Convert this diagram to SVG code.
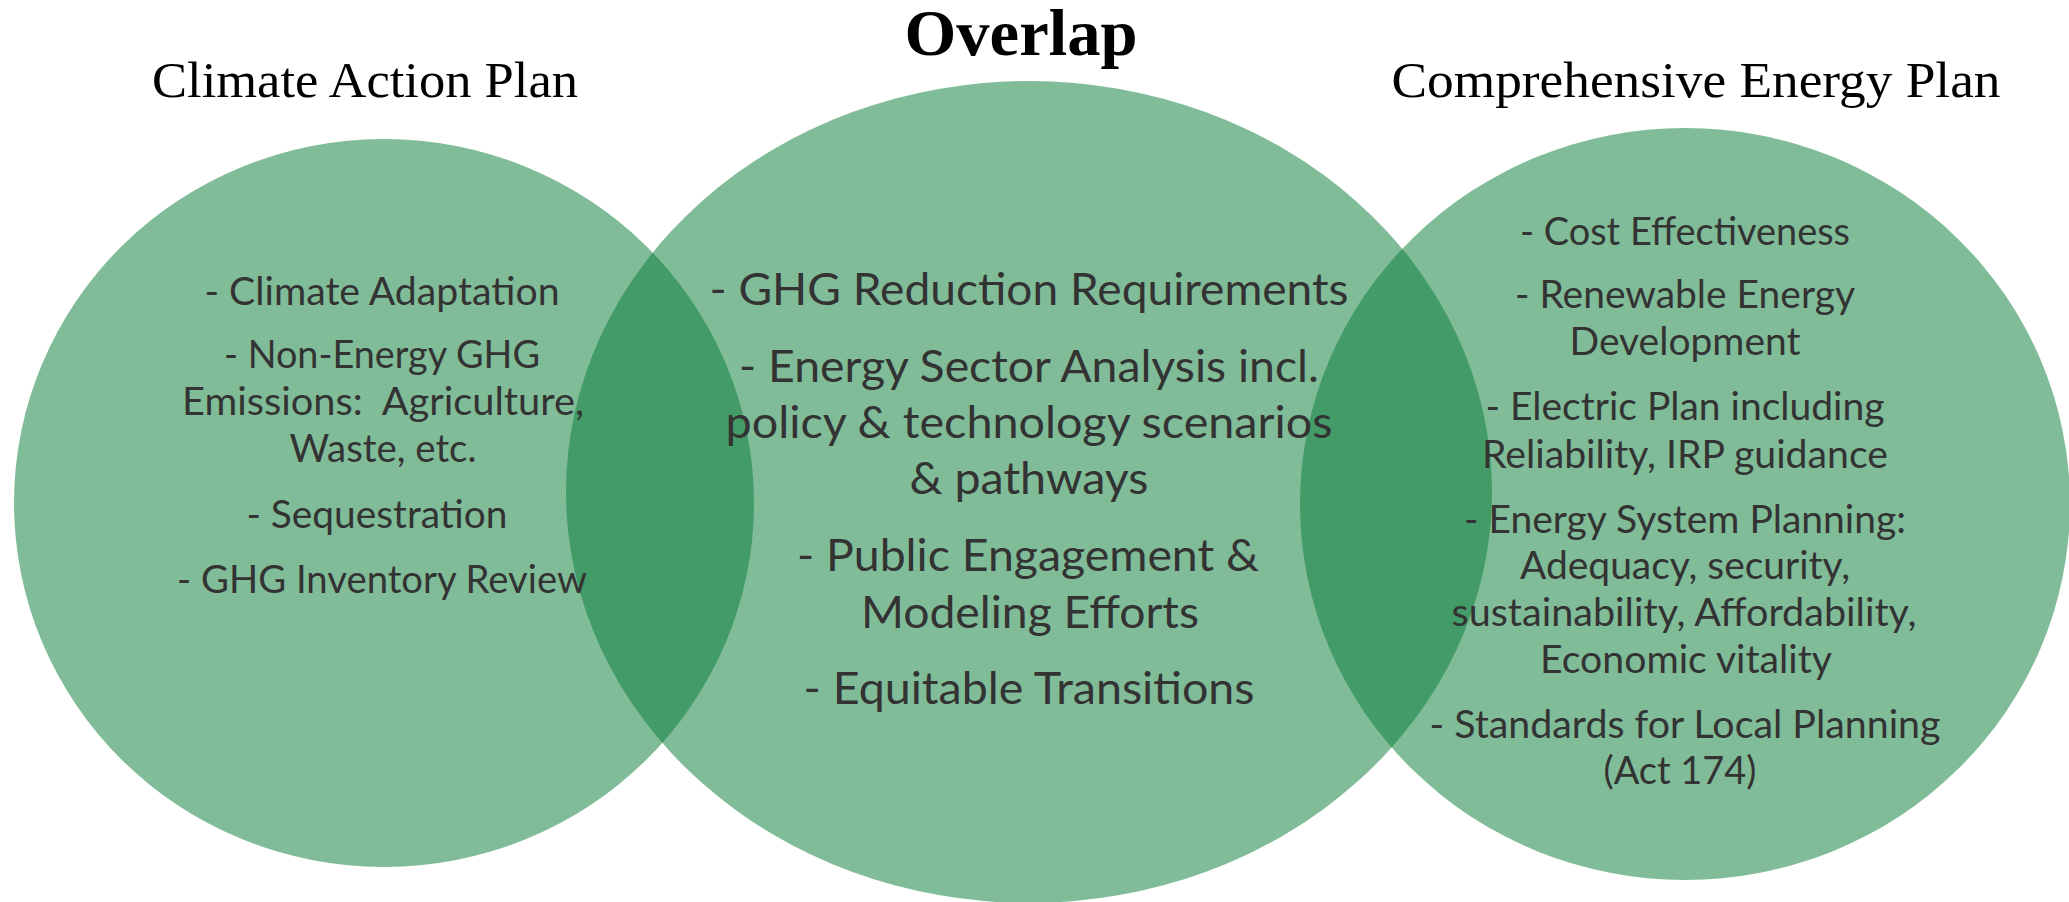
<svg xmlns="http://www.w3.org/2000/svg" width="2069" height="902" viewBox="0 0 2069 902">
<style>
.c{fill:rgb(11,126,57);fill-opacity:0.52}
.t{font-family:Lato,"Open Sans","Liberation Sans",sans-serif;fill:#333333;text-anchor:middle}
.s{font-size:39px}
.m{font-size:45px}
.h{font-family:"Liberation Serif","DejaVu Serif",serif;fill:#000;text-anchor:middle;font-size:50px}
.o{font-family:"Liberation Serif","DejaVu Serif",serif;fill:#000;text-anchor:middle;font-size:66px;font-weight:bold}
</style>
<rect width="2069" height="902" fill="#fff"/>
<g id="shapes">
<ellipse id="cap-circle" class="c" cx="384" cy="503" rx="370" ry="364"/>
<ellipse id="overlap-circle" class="c" cx="1029" cy="492" rx="463" ry="411"/>
<ellipse id="cep-circle" class="c" cx="1685" cy="504" rx="385" ry="376"/>
</g>
<g id="titles">
<text class="o" x="1021" y="55" textLength="233" lengthAdjust="spacingAndGlyphs">Overlap</text>
<text class="h" x="365" y="97" textLength="426" lengthAdjust="spacingAndGlyphs">Climate Action Plan</text>
<text class="h" x="1696" y="97" textLength="609" lengthAdjust="spacingAndGlyphs">Comprehensive Energy Plan</text>
</g>
<g id="cap-text" class="t s">
<text x="382" y="305" textLength="355" lengthAdjust="spacingAndGlyphs">- Climate Adaptation</text>
<text x="382" y="368" textLength="316" lengthAdjust="spacingAndGlyphs">- Non-Energy GHG</text>
<text x="383" y="415" textLength="402" lengthAdjust="spacingAndGlyphs" xml:space="preserve">Emissions:  Agriculture,</text>
<text x="383" y="462" textLength="187" lengthAdjust="spacingAndGlyphs">Waste, etc.</text>
<text x="377" y="528" textLength="261" lengthAdjust="spacingAndGlyphs">- Sequestration</text>
<text x="382" y="593" textLength="410" lengthAdjust="spacingAndGlyphs">- GHG Inventory Review</text>
</g>
<g id="overlap-text" class="t m">
<text x="1029" y="305" textLength="639" lengthAdjust="spacingAndGlyphs">- GHG Reduction Requirements</text>
<text x="1029" y="382" textLength="580" lengthAdjust="spacingAndGlyphs">- Energy Sector Analysis incl.</text>
<text x="1029" y="438" textLength="607" lengthAdjust="spacingAndGlyphs">policy &amp; technology scenarios</text>
<text x="1029" y="494" textLength="239" lengthAdjust="spacingAndGlyphs">&amp; pathways</text>
<text x="1028" y="571" textLength="462" lengthAdjust="spacingAndGlyphs">- Public Engagement &amp;</text>
<text x="1030" y="628" textLength="338" lengthAdjust="spacingAndGlyphs">Modeling Efforts</text>
<text x="1029" y="704" textLength="451" lengthAdjust="spacingAndGlyphs">- Equitable Transitions</text>
</g>
<g id="cep-text" class="t s">
<text x="1685" y="245" textLength="330" lengthAdjust="spacingAndGlyphs">- Cost Effectiveness</text>
<text x="1685" y="308" textLength="340" lengthAdjust="spacingAndGlyphs">- Renewable Energy</text>
<text x="1685" y="355" textLength="231" lengthAdjust="spacingAndGlyphs">Development</text>
<text x="1685" y="420" textLength="399" lengthAdjust="spacingAndGlyphs">- Electric Plan including</text>
<text x="1685" y="468" textLength="406" lengthAdjust="spacingAndGlyphs">Reliability, IRP guidance</text>
<text x="1685" y="533" textLength="442" lengthAdjust="spacingAndGlyphs">- Energy System Planning:</text>
<text x="1685" y="579" textLength="330" lengthAdjust="spacingAndGlyphs">Adequacy, security,</text>
<text x="1684" y="626" textLength="465" lengthAdjust="spacingAndGlyphs">sustainability, Affordability,</text>
<text x="1686" y="673" textLength="292" lengthAdjust="spacingAndGlyphs">Economic vitality</text>
<text x="1685" y="738" textLength="511" lengthAdjust="spacingAndGlyphs">- Standards for Local Planning</text>
<text x="1680" y="784" textLength="153" lengthAdjust="spacingAndGlyphs">(Act 174)</text>
</g>
</svg>
